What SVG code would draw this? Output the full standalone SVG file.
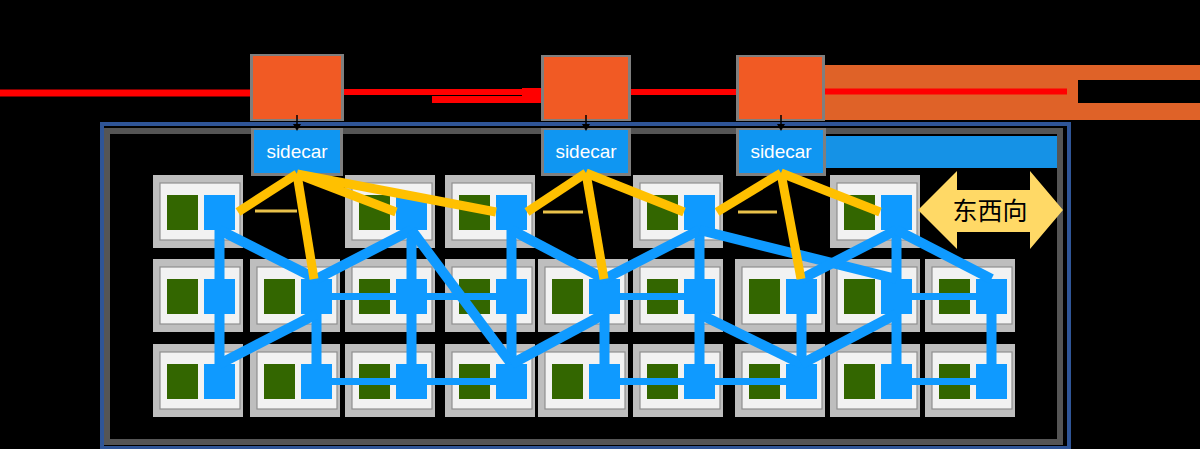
<svg xmlns="http://www.w3.org/2000/svg" xmlns:xlink="http://www.w3.org/1999/xlink" width="1200" height="449" viewBox="0 0 1200 449">
<defs>
<style>
.halo{fill:#7F7F7F}
.orange{fill:#F15A24}
.side{fill:#0F96F2}
.sidet{font-family:"Liberation Sans",Arial,sans-serif;font-size:19px;fill:#FFFFFF;text-anchor:middle}
.red{stroke:#FF0000;stroke-width:6;fill:none}
.bl{stroke:#0F9AFF;stroke-width:10;fill:none}
.bh{stroke:#0F9AFF;stroke-width:7;fill:none}
.yl{stroke:#FFC000;stroke-width:9;fill:none}
.yt{stroke:#E9C24B;stroke-width:3;fill:none}
.blk{stroke:#000000;stroke-width:1.5;fill:none}
</style>
<g id="podShape">
<rect x="-7" y="-8" width="90" height="73" fill="#BEBEBE"/>
<rect x="0" y="0" width="80" height="57" fill="#F2F2F2" stroke="#8F8F8F" stroke-width="1.2"/>
<rect x="7" y="12" width="31" height="35" fill="#336600"/>
<rect x="44" y="12" width="31" height="35" fill="#0F9AFF"/>
</g>
</defs>

<rect x="0" y="0" width="1200" height="449" fill="#000000"/>

<g id="frame">
<rect x="102" y="124" width="967" height="324" fill="none" stroke="#2F5597" stroke-width="4"/>
<rect x="107" y="131" width="953" height="311" fill="none" stroke="#555555" stroke-width="6"/>
</g>

<g id="red-lines">
<line class="red" x1="0" y1="93" x2="254" y2="93" style="stroke-width:7"/>
<line class="red" x1="340" y1="92" x2="545" y2="92"/>
<polygon points="432,96 522,96 522,88 545,88 545,103 432,103" fill="#FF0000"/>
<line class="red" x1="627" y1="92" x2="740" y2="92"/>
</g>

<g id="orange-band">
<polygon points="822,65 1200,65 1200,80 1078,80 1078,103 1200,103 1200,120 822,120" fill="#DF6228"/>
<line class="red" x1="820" y1="91.5" x2="1067" y2="91.5"/>
</g>

<g id="gateway-1">
<rect class="halo" x="250" y="54" width="94" height="67"/>
<rect class="orange" x="253" y="56" width="88" height="63"/>
</g>
<g id="gateway-2">
<rect class="halo" x="541" y="55" width="90" height="66"/>
<rect class="orange" x="544" y="57" width="84" height="62"/>
</g>
<g id="gateway-3">
<rect class="halo" x="736" y="55" width="89" height="66"/>
<rect class="orange" x="739" y="57" width="83" height="62"/>
</g>

<g id="sidecar-band">
<rect x="823" y="136" width="234" height="32" fill="#1592E6"/>
</g>

<g id="sidecar-1">
<rect class="halo" x="251" y="128" width="92" height="48"/>
<rect class="side" x="254" y="130" width="86" height="43"/>
<text class="sidet" x="297" y="158">sidecar</text>
</g>
<g id="sidecar-2">
<rect class="halo" x="541" y="128" width="90" height="48"/>
<rect class="side" x="544" y="130" width="84" height="43"/>
<text class="sidet" x="586" y="158">sidecar</text>
</g>
<g id="sidecar-3">
<rect class="halo" x="736" y="128" width="90" height="48"/>
<rect class="side" x="739" y="130" width="84" height="43"/>
<text class="sidet" x="781" y="158">sidecar</text>
</g>

<g id="pod-r1c1"><use xlink:href="#podShape" href="#podShape" x="160" y="183"/></g>
<g id="pod-r1c3"><use xlink:href="#podShape" href="#podShape" x="352" y="183"/></g>
<g id="pod-r1c4"><use xlink:href="#podShape" href="#podShape" x="452" y="183"/></g>
<g id="pod-r1c6"><use xlink:href="#podShape" href="#podShape" x="640" y="183"/></g>
<g id="pod-r1c8"><use xlink:href="#podShape" href="#podShape" x="837" y="183"/></g>

<g id="pod-r2c1"><use xlink:href="#podShape" href="#podShape" x="160" y="267"/></g>
<g id="pod-r2c2"><use xlink:href="#podShape" href="#podShape" x="257" y="267"/></g>
<g id="pod-r2c3"><use xlink:href="#podShape" href="#podShape" x="352" y="267"/></g>
<g id="pod-r2c4"><use xlink:href="#podShape" href="#podShape" x="452" y="267"/></g>
<g id="pod-r2c5"><use xlink:href="#podShape" href="#podShape" x="545" y="267"/></g>
<g id="pod-r2c6"><use xlink:href="#podShape" href="#podShape" x="640" y="267"/></g>
<g id="pod-r2c7"><use xlink:href="#podShape" href="#podShape" x="742" y="267"/></g>
<g id="pod-r2c8"><use xlink:href="#podShape" href="#podShape" x="837" y="267"/></g>
<g id="pod-r2c9"><use xlink:href="#podShape" href="#podShape" x="932" y="267"/></g>

<g id="pod-r3c1"><use xlink:href="#podShape" href="#podShape" x="160" y="352"/></g>
<g id="pod-r3c2"><use xlink:href="#podShape" href="#podShape" x="257" y="352"/></g>
<g id="pod-r3c3"><use xlink:href="#podShape" href="#podShape" x="352" y="352"/></g>
<g id="pod-r3c4"><use xlink:href="#podShape" href="#podShape" x="452" y="352"/></g>
<g id="pod-r3c5"><use xlink:href="#podShape" href="#podShape" x="545" y="352"/></g>
<g id="pod-r3c6"><use xlink:href="#podShape" href="#podShape" x="640" y="352"/></g>
<g id="pod-r3c7"><use xlink:href="#podShape" href="#podShape" x="742" y="352"/></g>
<g id="pod-r3c8"><use xlink:href="#podShape" href="#podShape" x="837" y="352"/></g>
<g id="pod-r3c9"><use xlink:href="#podShape" href="#podShape" x="932" y="352"/></g>

<g id="connectors">
<line class="bl" x1="219.5" y1="228" x2="219.5" y2="281"/>
<line class="bl" x1="219.5" y1="312" x2="219.5" y2="366"/>
<line class="bl" x1="316.5" y1="312" x2="316.5" y2="366"/>
<line class="bl" x1="411.5" y1="228" x2="411.5" y2="281"/>
<line class="bl" x1="411.5" y1="312" x2="411.5" y2="366"/>
<line class="bl" x1="511.5" y1="228" x2="511.5" y2="281"/>
<line class="bl" x1="511.5" y1="312" x2="511.5" y2="366"/>
<line class="bl" x1="604.5" y1="312" x2="604.5" y2="366"/>
<line class="bl" x1="699.5" y1="228" x2="699.5" y2="281"/>
<line class="bl" x1="699.5" y1="312" x2="699.5" y2="366"/>
<line class="bl" x1="801.5" y1="312" x2="801.5" y2="366"/>
<line class="bl" x1="896.5" y1="228" x2="896.5" y2="281"/>
<line class="bl" x1="896.5" y1="312" x2="896.5" y2="366"/>
<line class="bl" x1="991.5" y1="312" x2="991.5" y2="366"/>
<line class="bh" x1="330" y1="296.5" x2="398" y2="296.5"/>
<line class="bh" x1="425" y1="296.5" x2="498" y2="296.5"/>
<line class="bh" x1="618" y1="296.5" x2="686" y2="296.5"/>
<line class="bh" x1="910" y1="296.5" x2="978" y2="296.5"/>
<line class="bh" x1="330" y1="381.5" x2="398" y2="381.5"/>
<line class="bh" x1="425" y1="381.5" x2="498" y2="381.5"/>
<line class="bh" x1="618" y1="381.5" x2="686" y2="381.5"/>
<line class="bh" x1="713" y1="381.5" x2="788" y2="381.5"/>
<line class="bh" x1="910" y1="381.5" x2="978" y2="381.5"/>
<line class="bl" x1="219.5" y1="230" x2="316.5" y2="279"/>
<line class="bl" x1="411.5" y1="230" x2="316.5" y2="279"/>
<line class="bl" x1="411.5" y1="230" x2="511.5" y2="364"/>
<line class="bl" x1="316.5" y1="314" x2="219.5" y2="364"/>
<line class="bl" x1="511.5" y1="230" x2="604.5" y2="279"/>
<line class="bl" x1="699.5" y1="230" x2="604.5" y2="279"/>
<line class="bl" x1="604.5" y1="314" x2="511.5" y2="364"/>
<line class="bl" x1="699.5" y1="230" x2="896.5" y2="279"/>
<line class="bl" x1="896.5" y1="230" x2="801.5" y2="279"/>
<line class="bl" x1="896.5" y1="230" x2="991.5" y2="279"/>
<line class="bl" x1="699.5" y1="314" x2="801.5" y2="364"/>
<line class="bl" x1="896.5" y1="314" x2="801.5" y2="364"/>
<line class="yt" x1="255" y1="211" x2="297" y2="211"/>
<line class="yt" x1="543" y1="212" x2="583" y2="212"/>
<line class="yt" x1="738" y1="212" x2="777" y2="212"/>
<line class="yl" x1="297" y1="174" x2="238" y2="212"/>
<line class="yl" x1="297" y1="174" x2="314" y2="279"/>
<line class="yl" x1="297" y1="174" x2="396" y2="212"/>
<line class="yl" x1="297" y1="174" x2="496" y2="212"/>
<line class="yl" x1="586" y1="173" x2="527" y2="212"/>
<line class="yl" x1="586" y1="173" x2="604" y2="279"/>
<line class="yl" x1="586" y1="173" x2="684" y2="212"/>
<line class="yl" x1="781" y1="173" x2="717" y2="212"/>
<line class="yl" x1="781" y1="173" x2="801" y2="279"/>
<line class="yl" x1="781" y1="173" x2="880" y2="212"/>
<line class="blk" x1="297" y1="115" x2="297" y2="125"/>
<polygon points="293,124 301,124 297,131" fill="#000000"/>
<line class="blk" x1="586" y1="115" x2="586" y2="125"/>
<polygon points="582,124 590,124 586,131" fill="#000000"/>
<line class="blk" x1="781" y1="115" x2="781" y2="125"/>
<polygon points="777,124 785,124 781,131" fill="#000000"/>
</g>

<g id="east-west">
<polygon points="918,210 957,171 957,190 1030,190 1030,171 1063,210 1030,249 1030,232 957,232 957,249" fill="#FFD966"/>
<text x="990" y="220" font-family="'Noto Sans CJK SC','Noto Sans',sans-serif" font-size="25" fill="#000000" text-anchor="middle">东西向</text>
</g>
</svg>
